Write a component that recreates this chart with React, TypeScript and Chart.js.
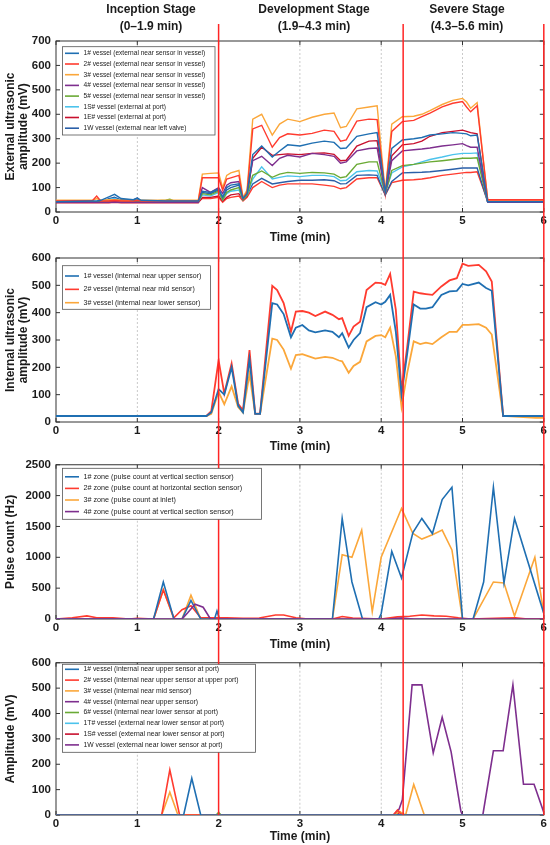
import { useEffect, useRef } from 'react'
import { Chart, registerables } from 'chart.js'

Chart.register(...registerables)

const FONT = 'Arial, "Liberation Sans", Helvetica, sans-serif'
const INK = '#1b1b1b'

const BLUE = '#1f6fb2'
const RED = '#ff3b2f'
const ORANGE = '#fba73a'
const PURPLE = '#7e2f8e'
const GREEN = '#6aaa35'
const CYAN = '#4cc3ec'
const DARKRED = '#c8102e'
const BLUE2 = '#2a5fa8'

// stage boundaries (min) drawn as red verticals
const stageBounds = [2, 4.27, 6]
const stageNames = ['Inception Stage', 'Development Stage', 'Severe Stage']
const stageRanges = ['(0–1.9 min)', '(1.9–4.3 min)', '(4.3–5.6 min)']

// ---- panel 1: external ultrasonic amplitude (mV)
const extLabels = [
  '1# vessel (external near sensor in vessel)',
  '2# vessel (external near sensor in vessel)',
  '3# vessel (external near sensor in vessel)',
  '4# vessel (external near sensor in vessel)',
  '5# vessel (external near sensor in vessel)',
  '1S# vessel (external at port)',
  '1E# vessel (external at port)',
  '1W vessel (external near left valve)',
]
const extTime = [0, 0.45, 0.5, 0.55, 0.65, 0.72, 0.8, 0.95, 1.0, 1.05, 1.35, 1.4, 1.45, 1.75,
  1.8, 1.9, 2.0, 2.05, 2.1, 2.15, 2.25, 2.3, 2.35,
  2.42, 2.53, 2.66, 2.75, 2.85, 3.0, 3.15, 3.3, 3.42, 3.5, 3.57, 3.7, 3.85, 3.95,
  4.05, 4.13, 4.26, 4.4, 4.5, 4.6, 4.75, 4.88, 5.0, 5.05, 5.1, 5.18,
  5.31, 6.0]
const ext1 = [42, 45, 45, 48, 62, 72, 55, 50, 55, 48, 45, 45, 45, 45,
  85, 80, 95, 60, 100, 110, 115, 55, 75,
  235, 270, 225, 250, 275, 270, 282, 290, 285, 260, 262, 310, 320, 325,
  80, 260, 295, 300, 305, 315, 320, 325, 322, 320, 312, 315,
  42, 42]
const ext2 = [45, 47, 65, 45, 45, 48, 45, 45, 48, 45, 45, 45, 45, 45,
  140, 140, 140, 90, 135, 140, 150, 55, 80,
  340, 355, 265, 305, 320, 315, 322, 335, 330, 290, 295, 372, 380, 378,
  75, 330, 370, 375, 390, 405, 430, 445, 452, 430, 410, 435,
  50, 50]
const ext3 = [48, 48, 55, 48, 50, 50, 48, 48, 50, 48, 48, 48, 48, 48,
  155, 158, 160, 100, 150, 160, 170, 60, 90,
  380, 400, 315, 360, 380, 370, 388, 400, 405, 345, 350, 422, 430, 435,
  80, 360, 390, 392, 400, 415, 440, 457, 465, 450, 425, 448,
  50, 50]
const ext4 = [40, 40, 40, 40, 40, 40, 40, 40, 40, 40, 40, 40, 40, 40,
  100, 80, 100, 75, 110, 120, 125, 55, 80,
  210, 228, 190, 220, 232, 225, 240, 235, 228, 200, 205, 250, 260, 262,
  75, 210, 250, 255, 258, 262, 270, 275, 280, 272, 265, 265,
  40, 40]
const ext5 = [42, 42, 42, 42, 45, 50, 45, 42, 42, 42, 48, 52, 45, 42,
  75, 70, 85, 50, 80, 90, 100, 50, 70,
  150, 168, 142, 155, 162, 158, 162, 160, 155, 140, 145, 195, 205, 205,
  75, 170, 190, 195, 200, 205, 210, 215, 220, 220, 220, 222,
  42, 42]
const ext1S = [40, 40, 40, 42, 50, 55, 45, 42, 45, 42, 42, 42, 42, 42,
  70, 65, 80, 50, 75, 85, 90, 50, 70,
  135, 185, 135, 142, 148, 145, 150, 150, 145, 128, 130, 165, 170, 168,
  80, 160, 185, 195, 205, 215, 225, 235, 240, 240, 240, 242,
  40, 40]
const ext1E = [38, 38, 38, 38, 38, 40, 38, 38, 38, 38, 38, 38, 38, 38,
  60, 60, 65, 45, 60, 70, 75, 50, 65,
  220, 265, 232, 235, 238, 235, 240, 242, 236, 210, 212, 270, 290, 292,
  80, 230, 275, 280, 290, 310, 325, 330, 335, 330, 325, 320,
  40, 40]
const ext1W = [40, 40, 40, 40, 55, 60, 50, 50, 58, 45, 42, 42, 42, 42,
  80, 75, 90, 55, 90, 100, 110, 50, 70,
  115, 138, 115, 120, 125, 130, 130, 132, 128, 115, 116, 150, 152, 150,
  70, 125, 160, 162, 163, 165, 170, 175, 180, 180, 180, 180,
  40, 40]
// extra unlabelled trace visible under the bundle
const extLow = [42, 42, 42, 42, 42, 42, 42, 42, 42, 42, 42, 42, 42, 42,
  55, 55, 60, 40, 55, 60, 65, 45, 60,
  100, 125, 100, 110, 115, 115, 115, 110, 105, 95, 100, 135, 140, 140,
  70, 120, 130, 132, 135, 140, 150, 155, 160, 162, 162, 165,
  45, 45]

// ---- panel 2: internal ultrasonic amplitude (mV)
const intLabels = [
  '1# vessel (internal near upper sensor)',
  '2# vessel (internal near mid sensor)',
  '3# vessel (internal near lower sensor)',
]
const intTime = [0, 1.85, 1.91, 2.0, 2.07, 2.16, 2.24, 2.3, 2.38, 2.45, 2.51,
  2.66, 2.72, 2.8, 2.89, 2.95, 3.03, 3.11, 3.19, 3.31, 3.4, 3.48, 3.52, 3.6, 3.66, 3.74,
  3.82, 3.93, 4.0, 4.05, 4.11, 4.18, 4.25, 4.32, 4.4, 4.48, 4.55, 4.63, 4.74, 4.84, 4.93,
  5.0, 5.07, 5.2, 5.29, 5.36, 5.5, 5.9, 6.0]
const int1 = [22, 22, 35, 120, 100, 200, 60, 35, 230, 30, 30,
  435, 430, 395, 310, 345, 355, 335, 328, 335, 330, 310, 325, 272, 300, 325,
  420, 438, 430, 440, 465, 330, 100, 250, 430, 415, 415, 420, 465, 478, 480,
  505, 500, 510, 490, 480, 22, 22, 22]
const int2 = [22, 22, 40, 226, 104, 214, 67, 43, 263, 31, 31,
  498, 483, 435, 330, 404, 406, 400, 388, 404, 392, 376, 380, 315, 349, 367,
  483, 510, 508, 502, 542, 410, 116, 275, 477, 471, 468, 465, 496, 518, 526,
  579, 571, 575, 551, 514, 22, 22, 22]
const int3 = [22, 22, 30, 110, 65, 130, 55, 35, 175, 30, 30,
  305, 300, 265, 195, 245, 248, 240, 232, 238, 235, 225, 222, 180, 205, 220,
  295, 315, 318, 310, 345, 240, 55, 180, 295, 285, 290, 285, 310, 330, 330,
  355, 355, 358, 345, 320, 22, 15, 15]

// ---- panel 3: pulse count (Hz)
const zoneLabels = [
  '1# zone (pulse count at vertical section sensor)',
  '2# zone (pulse count at horizontal section sensor)',
  '3# zone (pulse count at inlet)',
  '4# zone (pulse count at vertical section sensor)',
]
const zone1T = [0, 1.2, 1.32, 1.45, 1.55, 1.66, 1.78, 1.95, 1.98, 2.01, 3.4, 3.52, 3.64, 3.77, 3.97,
  4.0, 4.13, 4.25, 4.39, 4.5, 4.63, 4.75, 4.87, 5.0, 5.13, 5.26, 5.38, 5.51, 5.64, 6.0]
const zone1V = [0, 0, 600, 0, 0, 300, 0, 0, 130, 0, 0, 1630, 600, 0, 0,
  90, 1095, 665, 1400, 1630, 1385, 1935, 2135, 0, 0, 600, 2135, 585, 1630, 90]
const zone2T = [0, 0.2, 0.38, 0.5, 0.7, 0.9, 1.0, 1.2, 1.32, 1.45, 1.55, 1.66, 1.78, 1.9, 2.1, 2.3,
  2.5, 2.7, 2.8, 2.95, 3.1, 3.4, 3.52, 3.65, 4.0, 4.2, 4.35, 4.5, 4.65, 4.8, 4.95, 5.1, 5.5, 5.65, 5.8, 6.0]
const zone2V = [0, 20, 50, 20, 20, 0, 10, 0, 470, 20, 150, 215, 20, 20, 20, 10,
  15, 65, 65, 20, 0, 0, 40, 15, 0, 35, 45, 65, 50, 45, 20, 0, 15, 20, 0, 0]
const zone3T = [0, 1.2, 1.32, 1.45, 1.55, 1.66, 1.78, 3.4, 3.52, 3.64, 3.76, 3.89, 4.0, 4.25, 4.39,
  4.5, 4.63, 4.75, 4.87, 5.0, 5.13, 5.38, 5.51, 5.64, 5.89, 6.0]
const zone3V = [0, 0, 480, 0, 0, 385, 0, 0, 1040, 1000, 1440, 120, 1000, 1790, 1385,
  1295, 1365, 1440, 1120, 0, 0, 600, 585, 50, 1000, 90]
const zone4T = [0, 1.55, 1.62, 1.71, 1.81, 1.9, 4.1, 4.25, 4.4, 6.0]
const zone4V = [0, 0, 100, 240, 190, 0, 0, 15, 0, 0]

// ---- panel 4: amplitude (mV)
const ampLabels = [
  '1# vessel (internal near upper sensor at port)',
  '2# vessel (internal near upper sensor at upper port)',
  '3# vessel (internal near mid sensor)',
  '4# vessel (internal near upper sensor)',
  '6# vessel (internal near lower sensor at port)',
  '1T# vessel (external near lower sensor at port)',
  '1S# vessel (external near lower sensor at port)',
  '1W vessel (external near lower sensor at port)',
]
const amp1T = [0, 1.57, 1.67, 1.78, 6.0]
const amp1V = [0, 0, 145, 0, 0]
const amp2T = [0, 1.3, 1.4, 1.52, 4.15, 4.2, 4.25, 6.0]
const amp2V = [0, 0, 178, 0, 0, 20, 0, 0]
const amp3T = [0, 1.3, 1.4, 1.5, 4.17, 4.22, 4.27, 4.3, 4.4, 4.53, 6.0]
const amp3V = [0, 0, 90, 0, 0, 15, 5, 0, 120, 0, 0]
const amp4T = [0, 6.0]
const amp4V = [0, 0]
const amp6T = [0, 1.97, 2.0, 2.03, 6.0]
const amp6V = [0, 0, 10, 0, 0]
const amp1TT = [0, 6.0]
const amp1TV = [0, 0]
const amp1ST = [0, 4.18, 4.23, 4.28, 6.0]
const amp1SV = [0, 0, 12, 0, 0]
const amp1WT = [0, 4.15, 4.22, 4.26, 4.38, 4.5, 4.64, 4.75, 4.86, 4.98, 5.0, 5.25, 5.38, 5.5, 5.62, 5.75, 5.88, 6.0]
const amp1WV = [0, 0, 23, 60, 513, 513, 245, 385, 249, 15, 0, 0, 253, 253, 513, 121, 121, 10]

type Series = { label?: string; color: string; x: number[]; y: number[]; order?: number }
type Box = { left: number; right: number; top: number; bottom: number; first: number; gap: number; font: number }
type PanelProps = {
  height: number
  padTop: number
  padBottom: number
  xHeight: number
  yMax: number
  yStep: number
  yTitle: string | string[]
  lineWidth: number
  series: Series[]
  legend: Box
  redTop: number
  redToArea?: boolean
  stages?: boolean
}

const framePlugin = {
  id: 'frame',
  beforeDatasetsDraw(chart: any) {
    const { ctx, chartArea: a, scales } = chart
    const xs = scales.x
    const ys = scales.y
    ctx.save()
    ctx.strokeStyle = '#bdbdbd'
    ctx.lineWidth = 0.8
    ctx.setLineDash([2, 2])
    for (let t = 1; t < 6; t++) {
      const px = xs.getPixelForValue(t)
      ctx.beginPath()
      ctx.moveTo(px, a.top)
      ctx.lineTo(px, a.bottom)
      ctx.stroke()
    }
    ctx.setLineDash([])
    ctx.strokeStyle = '#333'
    ctx.lineWidth = 1
    ctx.beginPath()
    xs.ticks.forEach((tk: any) => {
      const px = xs.getPixelForValue(tk.value)
      ctx.moveTo(px, a.bottom)
      ctx.lineTo(px, a.bottom - 4)
      ctx.moveTo(px, a.top)
      ctx.lineTo(px, a.top + 4)
    })
    ys.ticks.forEach((tk: any) => {
      const py = ys.getPixelForValue(tk.value)
      ctx.moveTo(a.left, py)
      ctx.lineTo(a.left + 4, py)
      ctx.moveTo(a.right, py)
      ctx.lineTo(a.right - 4, py)
    })
    ctx.stroke()
    ctx.strokeRect(a.left, a.top, a.width, a.height)
    ctx.restore()
  },
}

function redPlugin(p: PanelProps) {
  return {
    id: 'stageLines',
    afterDatasetsDraw(chart: any) {
      const { ctx, chartArea, scales } = chart
      const bottom = p.redToArea ? chartArea.bottom : chart.height
      ctx.save()
      ctx.strokeStyle = '#ff2424'
      ctx.lineWidth = 1.5
      stageBounds.forEach((t) => {
        const px = scales.x.getPixelForValue(t)
        ctx.beginPath()
        ctx.moveTo(px, p.redTop)
        ctx.lineTo(px, bottom)
        ctx.stroke()
      })
      ctx.restore()
    },
  }
}

function legendPlugin(p: PanelProps) {
  return {
    id: 'boxLegend',
    afterDraw(chart: any) {
      const { ctx } = chart
      const L = p.legend
      ctx.save()
      ctx.fillStyle = '#fff'
      ctx.fillRect(L.left, L.top, L.right - L.left, L.bottom - L.top)
      ctx.strokeStyle = '#555'
      ctx.lineWidth = 0.8
      ctx.strokeRect(L.left, L.top, L.right - L.left, L.bottom - L.top)
      ctx.font = `${L.font}px ${FONT}`
      ctx.textBaseline = 'middle'
      let row = 0
      p.series.forEach((s) => {
        if (!s.label) return
        const y = L.first + row * L.gap
        ctx.strokeStyle = s.color
        ctx.lineWidth = 1.6
        ctx.beginPath()
        ctx.moveTo(L.left + 2.5, y)
        ctx.lineTo(L.left + 16.5, y)
        ctx.stroke()
        ctx.fillStyle = INK
        ctx.fillText(s.label, L.left + 21, y)
        row++
      })
      ctx.restore()
    },
  }
}

const stageX = [151, 314, 467]
const stagePlugin = {
  id: 'stageTitles',
  afterDraw(chart: any) {
    const { ctx } = chart
    ctx.save()
    ctx.fillStyle = INK
    ctx.font = `bold 12px ${FONT}`
    ctx.textAlign = 'center'
    ctx.textBaseline = 'middle'
    stageNames.forEach((name, i) => {
      ctx.fillText(name, stageX[i], 10)
      ctx.fillText(stageRanges[i], stageX[i], 27)
    })
    ctx.restore()
  },
}

function Panel(p: PanelProps) {
  const canvasRef = useRef<HTMLCanvasElement>(null)

  useEffect(() => {
    if (!canvasRef.current) return
    const tickFont = { family: FONT, size: 11.5, weight: 'bold' as const, lineHeight: 1 }
    const chart = new Chart(canvasRef.current, {
      type: 'line',
      data: {
        datasets: p.series.map((s) => ({
          label: s.label ?? '',
          data: s.x.map((t, i) => ({ x: t, y: s.y[i] })),
          borderColor: s.color,
          backgroundColor: s.color,
          borderWidth: p.lineWidth,
          pointRadius: 0,
          tension: 0,
          fill: false,
          order: s.order ?? 0,
        })),
      },
      options: {
        animation: false,
        responsive: true,
        maintainAspectRatio: false,
        events: [],
        layout: { padding: { top: p.padTop, bottom: p.padBottom, left: 0, right: 5 } },
        plugins: { legend: { display: false }, tooltip: { enabled: false } },
        scales: {
          x: {
            type: 'linear',
            min: 0,
            max: 6,
            grid: { display: false, drawTicks: false },
            border: { display: false },
            ticks: { stepSize: 1, padding: 3, maxRotation: 0, autoSkip: false, color: INK, font: tickFont },
            title: {
              display: true,
              text: 'Time (min)',
              color: INK,
              padding: 0,
              font: { family: FONT, size: 12, weight: 'bold', lineHeight: 1.2 },
            },
            afterFit: (s: any) => {
              s.height = p.xHeight
            },
          },
          y: {
            type: 'linear',
            min: 0,
            max: p.yMax,
            grid: { display: false, drawTicks: false },
            border: { display: false },
            ticks: {
              stepSize: p.yStep,
              padding: 5,
              color: INK,
              font: tickFont,
              callback: (v: any) => String(v),
            },
            title: {
              display: true,
              text: p.yTitle,
              color: INK,
              padding: { top: 4, bottom: 0 },
              font: { family: FONT, size: 12, weight: 'bold', lineHeight: 1.1 },
            },
            afterFit: (s: any) => {
              s.width = 56
            },
          },
        },
      },
      plugins: [framePlugin, redPlugin(p), legendPlugin(p), ...(p.stages ? [stagePlugin] : [])],
    })

    return () => chart.destroy()
  }, [])

  return (
    <div style={{ position: 'relative', width: 550, height: p.height }}>
      <canvas ref={canvasRef} />
    </div>
  )
}

const extSeries: Series[] = [
  { label: extLabels[0], color: BLUE, x: extTime, y: ext1 },
  { label: extLabels[1], color: RED, x: extTime, y: ext2 },
  { label: extLabels[2], color: ORANGE, x: extTime, y: ext3 },
  { label: extLabels[3], color: PURPLE, x: extTime, y: ext4 },
  { label: extLabels[4], color: GREEN, x: extTime, y: ext5 },
  { label: extLabels[5], color: CYAN, x: extTime, y: ext1S },
  { label: extLabels[6], color: DARKRED, x: extTime, y: ext1E },
  { label: extLabels[7], color: BLUE2, x: extTime, y: ext1W },
  { color: RED, x: extTime, y: extLow },
]

const intSeries: Series[] = [
  { label: intLabels[0], color: BLUE, x: intTime, y: int1 },
  { label: intLabels[1], color: RED, x: intTime, y: int2 },
  { label: intLabels[2], color: ORANGE, x: intTime, y: int3 },
]

const zoneSeries: Series[] = [
  { label: zoneLabels[0], color: BLUE, x: zone1T, y: zone1V },
  { label: zoneLabels[1], color: RED, x: zone2T, y: zone2V },
  { label: zoneLabels[2], color: ORANGE, x: zone3T, y: zone3V },
  { label: zoneLabels[3], color: PURPLE, x: zone4T, y: zone4V, order: -1 },
]

const ampSeries: Series[] = [
  { label: ampLabels[0], color: BLUE, x: amp1T, y: amp1V },
  { label: ampLabels[1], color: RED, x: amp2T, y: amp2V },
  { label: ampLabels[2], color: ORANGE, x: amp3T, y: amp3V },
  { label: ampLabels[3], color: PURPLE, x: amp4T, y: amp4V },
  { label: ampLabels[4], color: GREEN, x: amp6T, y: amp6V },
  { label: ampLabels[5], color: CYAN, x: amp1TT, y: amp1TV },
  { label: ampLabels[6], color: DARKRED, x: amp1ST, y: amp1SV },
  { label: ampLabels[7], color: PURPLE, x: amp1WT, y: amp1WV },
]

export default function App() {
  return (
    <div style={{ position: 'absolute', left: 0, top: 0, width: 550, height: 845, background: '#fff' }}>
      <Panel
        height={245}
        padTop={41}
        padBottom={0}
        xHeight={33}
        yMax={700}
        yStep={100}
        yTitle={['External ultrasonic', 'amplitude (mV)']}
        lineWidth={1.4}
        series={extSeries}
        legend={{ left: 62.5, right: 215, top: 46.7, bottom: 135, first: 53.3, gap: 10.7, font: 6.6 }}
        redTop={24}
        stages
      />
      <Panel
        height={209}
        padTop={13}
        padBottom={0}
        xHeight={32}
        yMax={600}
        yStep={100}
        yTitle={['Internal ultrasonic', 'amplitude (mV)']}
        lineWidth={1.8}
        series={intSeries}
        legend={{ left: 62.5, right: 210.5, top: 20.7, bottom: 64.3, first: 31, gap: 13.35, font: 7 }}
        redTop={0}
      />
      <Panel
        height={198}
        padTop={9}
        padBottom={0}
        xHeight={33}
        yMax={2500}
        yStep={500}
        yTitle="Pulse count (Hz)"
        lineWidth={1.6}
        series={zoneSeries}
        legend={{ left: 62.5, right: 261.5, top: 14.3, bottom: 65.3, first: 22.8, gap: 11.6, font: 7.2 }}
        redTop={0}
      />
      <Panel
        height={193}
        padTop={6}
        padBottom={1}
        xHeight={29}
        yMax={600}
        yStep={100}
        yTitle="Amplitude (mV)"
        lineWidth={1.6}
        series={ampSeries}
        legend={{ left: 62.5, right: 255.5, top: 12.3, bottom: 100.3, first: 17.3, gap: 10.8, font: 6.8 }}
        redTop={0}
        redToArea
      />
    </div>
  )
}
